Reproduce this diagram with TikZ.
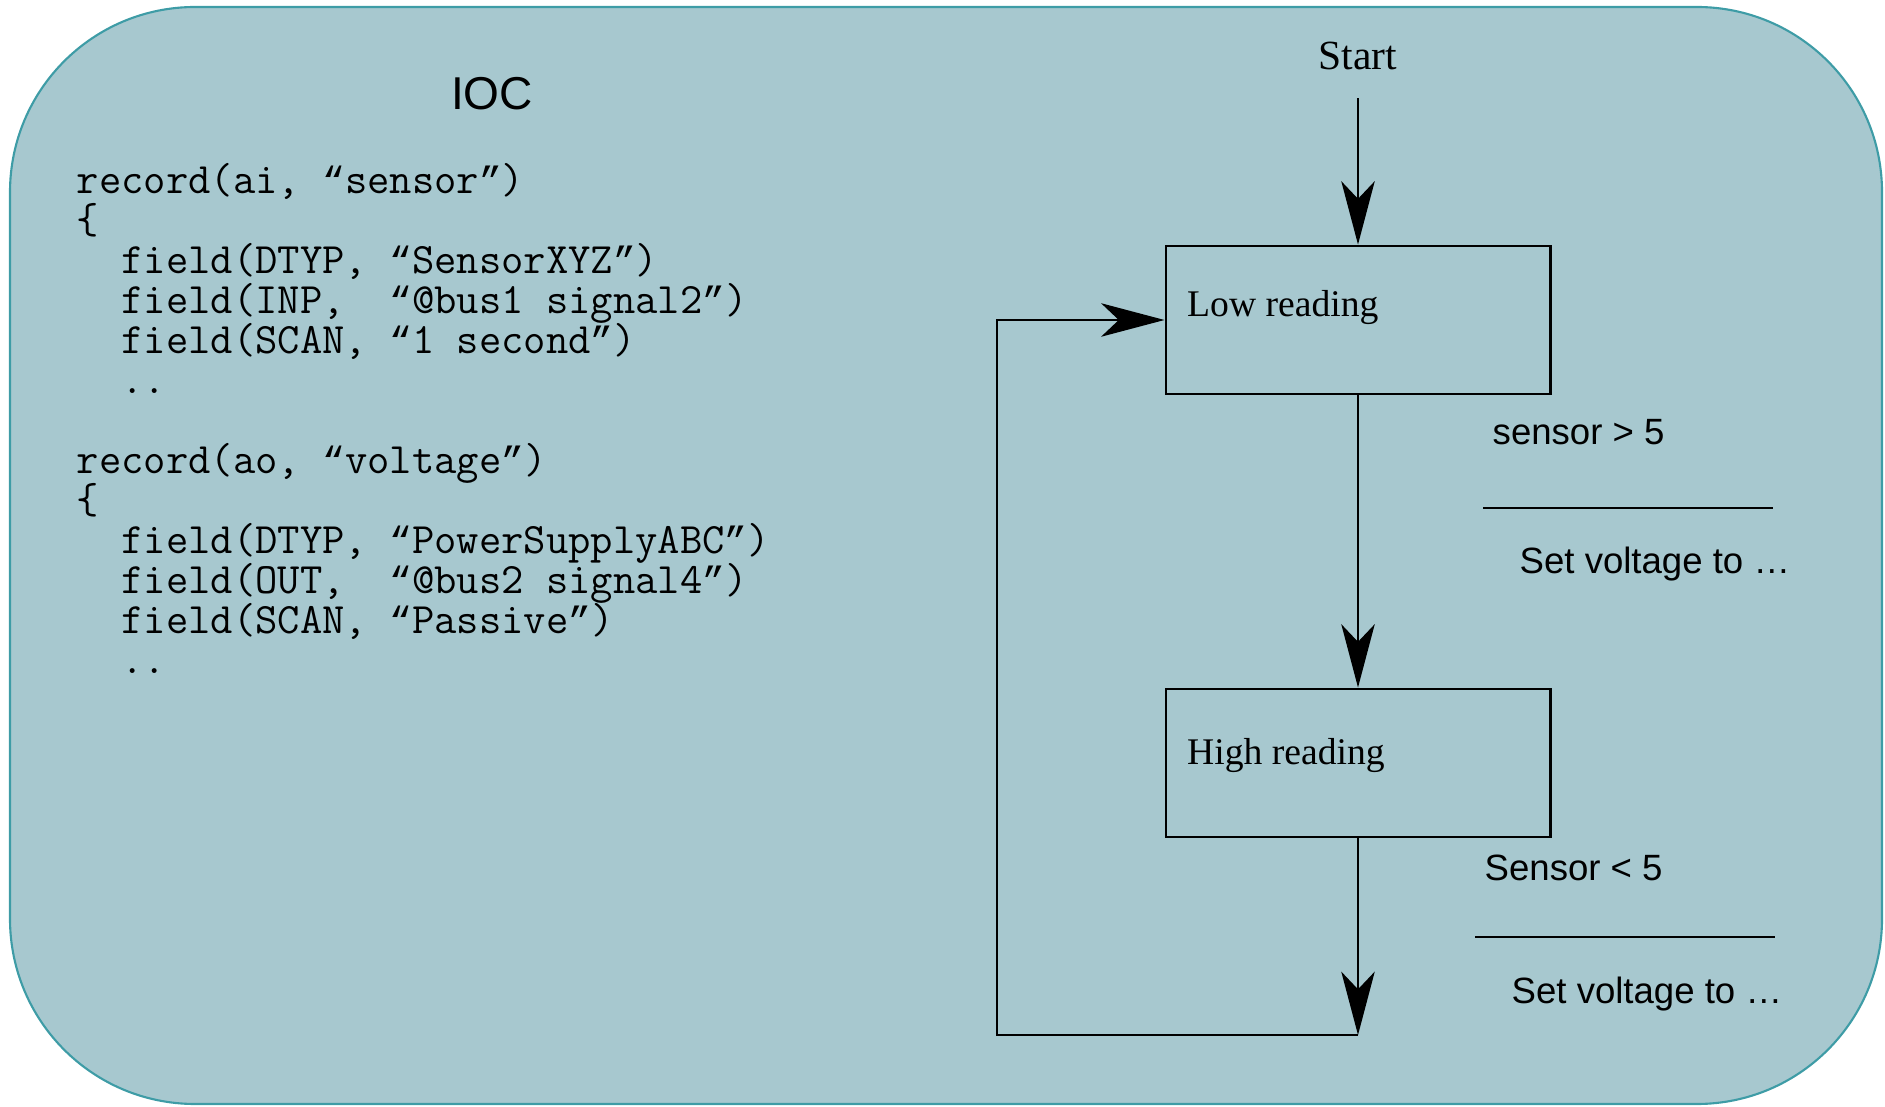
\documentclass[tikz,border=0pt]{standalone}
\usepackage{fontspec}
\setmainfont{Liberation Serif}
\setsansfont{Liberation Sans}
\newfontfamily\quotefont{Liberation Mono}
\usetikzlibrary{arrows.meta,calc,positioning}
\definecolor{iocfill}{RGB}{167,200,207}
\definecolor{iocedge}{RGB}{62,156,166}
\newcommand{\ind}{\phantom{xx}}
\newcommand{\oq}{{\quotefont\fontsize{10.8}{11.38}\selectfont “}}
\newcommand{\cq}{{\quotefont\fontsize{10.8}{11.38}\selectfont ”}}
\newcommand{\codefont}{\ttfamily\fontsize{12.33}{11.38}\selectfont\lineskiplimit=-20pt\relax}
\tikzset{
  flow/.style={-{Stealth[length=18pt,width=9.5pt,inset=5pt]},line width=0.7pt},
  state/.style={draw,line width=0.8pt,minimum width=3.84cm,minimum height=1.48cm,inner sep=0pt},
  statetext/.style={font=\fontsize{10.7}{12}\selectfont,anchor=base west,inner sep=0pt},
  cond/.style={font=\sffamily\fontsize{10.4}{12}\selectfont,anchor=base west,inner sep=0pt}
}
\begin{document}
\begin{tikzpicture}[x=0.01cm,y=-0.01cm]
\useasboundingbox (0,0) rectangle (1885,1107);
% IOC frame
\draw[fill=iocfill,draw=iocedge,line width=0.6pt,rounded corners=1.85cm] (10,7) rectangle (1882,1104);
\node[font=\sffamily\fontsize{13.1}{15}\selectfont,anchor=base,inner sep=0pt] (ioc) at (492,110) {IOC};
\node[font=\codefont,align=left,anchor=base west,inner sep=0pt] (code) at (76,674)
  {record(ai, \oq sensor\cq)\\
   \{\\
   \ind field(DTYP, \oq SensorXYZ\cq)\\
   \ind field(INP, \ \oq @bus1 signal2\cq)\\
   \ind field(SCAN, \oq 1 second\cq)\\
   \ind ..\\[11.38pt]
   record(ao, \oq voltage\cq)\\
   \{\\
   \ind field(DTYP, \oq PowerSupplyABC\cq)\\
   \ind field(OUT, \ \oq @bus2 signal4\cq)\\
   \ind field(SCAN, \oq Passive\cq)\\
   \ind ..};
% state machine
\node[font=\fontsize{11.8}{14}\selectfont,anchor=base,inner sep=0pt] (start) at (1358,70) {Start};
\node[state] (low)  at (1358,320) {};
\node[state] (high) at (1358,763) {};
\node[statetext] (lowtxt)  at ($(low.west)+(22,-3)$)  {Low reading};
\node[statetext] (hightxt) at ($(high.west)+(22,2)$) {High reading};
\coordinate (loopend) at (1358,1035);
\draw[flow] ([yshift=-0.27cm]start.south) -- (low.north);
\draw[flow] (low.south) -- (high.north);
\draw[flow] (high.south) -- (loopend);
\draw[flow,line width=0.8pt] (loopend) -- ++(-361,0) |- (low.west);
% transitions
\node[cond] (cond1) at (1492,445) {sensor > 5};
\draw[line width=0.7pt] (1483,508) -- (1773,508);
\node[cond] (act1) at (1519,574) {Set voltage to …};
\node[cond] (cond2) at (1484,880) {Sensor < 5};
\draw[line width=0.7pt] (1475,937) -- (1775,937);
\node[cond] (act2) at (1511,1003) {Set voltage to …};
\end{tikzpicture}
\end{document}
